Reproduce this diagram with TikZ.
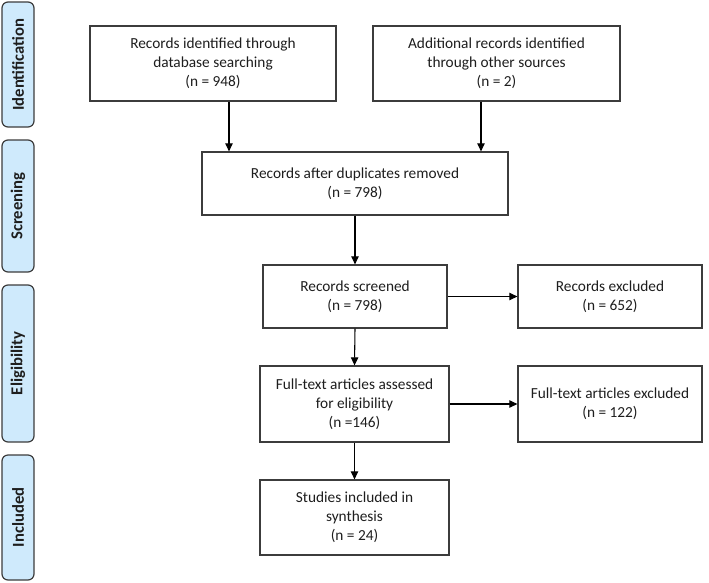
\documentclass[tikz,border=0pt]{standalone}
\usepackage{fontspec}
\setmainfont{Carlito}
\usetikzlibrary{arrows.meta}
\definecolor{sideblue}{RGB}{207,234,252}
\definecolor{edgegray}{RGB}{60,60,60}
\definecolor{txt}{RGB}{30,30,30}
\tikzset{
  box/.style={draw=edgegray, line width=0.9pt, fill=white, align=center, inner sep=0pt,
    text=txt, font=\fontsize{11.5pt}{14.25pt}\selectfont},
  side/.style={draw=edgegray, line width=0.9pt, fill=sideblue, rounded corners=4.5pt,
    rotate=90, inner sep=0pt, text=txt, font=\fontsize{12.5pt}{15pt}\selectfont\bfseries},
  arr/.style={-{Triangle[length=6pt,width=5.5pt]}, line width=0.8pt, draw=black}
}
\begin{document}
\begin{tikzpicture}[x=0.75pt,y=-0.75pt]
\useasboundingbox (0,0) rectangle (709,582);
% side labels
\node[side, minimum width=125*0.75pt, minimum height=32*0.75pt] (sid) at (18,64.5) {Identification};
\node[side, minimum width=132*0.75pt, minimum height=32*0.75pt] (sscr) at (18,206) {Screening};
\node[side, minimum width=157*0.75pt, minimum height=32*0.75pt] (selig) at (18,363.5) {Eligibility};
\node[side, minimum width=125*0.75pt, minimum height=32*0.75pt] (sinc) at (18,517.5) {Included};
% boxes
\node[box, minimum width=246*0.75pt, minimum height=75*0.75pt] (b1) at (213,63.5)
  {Records identified through\\database searching\\(n = 948)};
\node[box, minimum width=247*0.75pt, minimum height=75*0.75pt] (b2) at (496.5,63.5)
  {Additional records identified\\through other sources\\(n = 2)};
\node[box, minimum width=306*0.75pt, minimum height=63*0.75pt] (b3) at (355,183.5)
  {Records after duplicates removed\\(n = 798)};
\node[box, minimum width=184*0.75pt, minimum height=63*0.75pt] (b4) at (355,296.5)
  {Records screened\\(n = 798)};
\node[box, minimum width=184*0.75pt, minimum height=63*0.75pt] (b5) at (610,296.5)
  {Records excluded\\(n = 652)};
\node[box, minimum width=189*0.75pt, minimum height=76*0.75pt] (b6) at (354.5,404)
  {Full-text articles assessed\\for eligibility\\(n =146)};
\node[box, minimum width=184*0.75pt, minimum height=76*0.75pt] (b7) at (610,404)
  {Full-text articles excluded\\(n = 122)};
\node[box, minimum width=189*0.75pt, minimum height=75*0.75pt] (b8) at (354.5,517.5)
  {Studies included in\\synthesis\\(n = 24)};
% connectors
\coordinate (xa) at (229,0);
\coordinate (xb) at (481,0);
\draw[arr] (b1.south -| xa) -- (b3.north -| xa);
\draw[arr] (b2.south -| xb) -- (b3.north -| xb);
\draw[arr] (b3.south) -- (b4.north);
\draw[arr] (b4.east) -- (b5.west);
\draw[arr] (b4.south) -- (b6.north);
\draw[arr] (b6.east) -- (b7.west);
\draw[arr] (b6.south) -- (b8.north);
\end{tikzpicture}
\end{document}
